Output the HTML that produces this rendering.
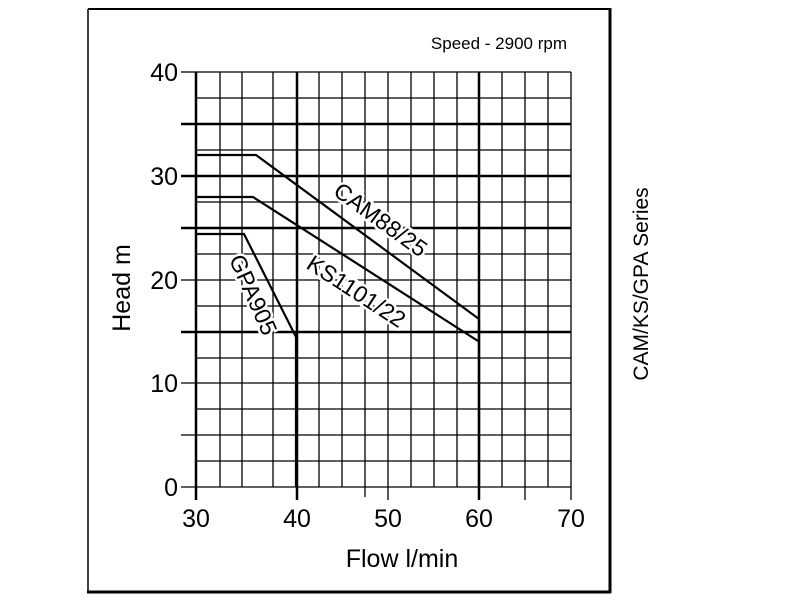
<!DOCTYPE html>
<html><head><meta charset="utf-8"><style>body{margin:0;background:#fff}svg{display:block}</style></head>
<body>
<svg width="800" height="600" xmlns="http://www.w3.org/2000/svg" font-family="Liberation Sans, Arial, sans-serif">
<rect x="0" y="0" width="800" height="600" fill="#fff"/>
<line x1="88" y1="9" x2="610" y2="9" stroke="#000" stroke-width="2"/>
<line x1="88" y1="9" x2="88" y2="592" stroke="#000" stroke-width="1.5"/>
<line x1="610" y1="8" x2="610" y2="593" stroke="#000" stroke-width="3"/>
<line x1="87" y1="592" x2="611" y2="592" stroke="#000" stroke-width="3"/>
<g stroke="#000" stroke-width="1.3">
<line x1="220" y1="72" x2="220" y2="487"/><line x1="242" y1="72" x2="242" y2="487"/><line x1="273" y1="72" x2="273" y2="487"/>
<line x1="319" y1="72" x2="319" y2="487"/><line x1="342" y1="72" x2="342" y2="487"/><line x1="365" y1="72" x2="365" y2="497"/>
<line x1="388" y1="72" x2="388" y2="500"/><line x1="411" y1="72" x2="411" y2="487"/><line x1="434" y1="72" x2="434" y2="487"/>
<line x1="457" y1="72" x2="457" y2="487"/><line x1="502" y1="72" x2="502" y2="487"/><line x1="525" y1="72" x2="525" y2="500"/>
<line x1="548" y1="72" x2="548" y2="487"/><line x1="571" y1="72" x2="571" y2="500"/>
<line x1="196" y1="72" x2="571" y2="72"/><line x1="181" y1="72" x2="196" y2="72"/>
<line x1="196" y1="98" x2="571" y2="98"/><line x1="196" y1="150" x2="571" y2="150"/>
<line x1="196" y1="202" x2="571" y2="202"/><line x1="181" y1="280" x2="571" y2="280"/>
<line x1="196" y1="254" x2="571" y2="254"/><line x1="196" y1="306" x2="571" y2="306"/>
<line x1="196" y1="358" x2="571" y2="358"/><line x1="181" y1="383" x2="571" y2="383"/>
<line x1="196" y1="409" x2="571" y2="409"/><line x1="181" y1="435" x2="571" y2="435"/>
<line x1="196" y1="461" x2="571" y2="461"/><line x1="181" y1="487" x2="571" y2="487"/>
</g>
<g stroke="#000" stroke-width="2.5">
<line x1="181" y1="124" x2="571" y2="124"/><line x1="181" y1="176" x2="571" y2="176"/>
<line x1="181" y1="228" x2="571" y2="228"/><line x1="181" y1="332" x2="571" y2="332"/>
<line x1="196" y1="72" x2="196" y2="500"/>
<line x1="297" y1="72" x2="297" y2="500"/><line x1="479" y1="72" x2="479" y2="500"/>
</g>
<g fill="none" stroke="#000" stroke-width="2.2">
<polyline points="196,155 256,155 479,319 479,487"/>
<polyline points="196,197 253,197 478,341"/>
<polyline points="196,234 244,234 296,337 296,487"/>
</g>
<g font-size="25" fill="#000">
<text x="178" y="81" text-anchor="end">40</text>
<text x="178" y="185" text-anchor="end">30</text>
<text x="178" y="289" text-anchor="end">20</text>
<text x="178" y="392" text-anchor="end">10</text>
<text x="178" y="496" text-anchor="end">0</text>
<text x="196" y="527" text-anchor="middle">30</text>
<text x="297" y="527" text-anchor="middle">40</text>
<text x="388" y="527" text-anchor="middle">50</text>
<text x="479" y="527" text-anchor="middle">60</text>
<text x="571" y="527" text-anchor="middle">70</text>
<text x="402" y="567" text-anchor="middle">Flow l/min</text>
<text transform="translate(130,288) rotate(-90)" text-anchor="middle">Head m</text>
</g>
<text x="567" y="49" font-size="17" text-anchor="end">Speed - 2900 rpm</text>
<text transform="translate(648,284) rotate(-90)" font-size="21" text-anchor="middle">CAM/KS/GPA Series</text>
<g font-size="23" text-anchor="middle" stroke="#fff" stroke-width="5" paint-order="stroke" fill="#000">
<text transform="translate(376,226) rotate(36)">CAM88/25</text>
<text transform="translate(352,298) rotate(33)">KS1101/22</text>
<text transform="translate(246,298) rotate(66)">GPA905</text>
</g>
</svg>
</body></html>
